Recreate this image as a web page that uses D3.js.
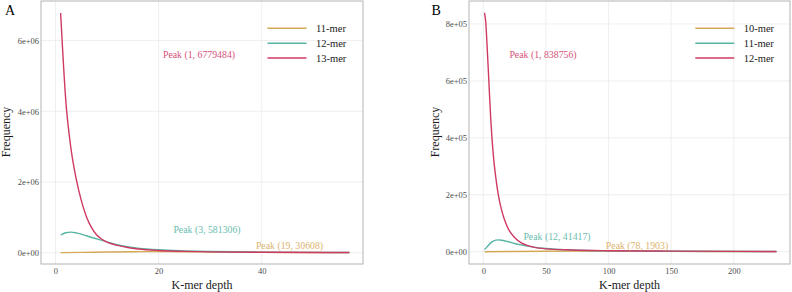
<!DOCTYPE html>
<html><head><meta charset="utf-8">
<script src="https://cdn.jsdelivr.net/npm/d3@7"></script>
<style>body{margin:0;background:#fff}svg{display:block}</style>
</head><body>
<svg id="c" width="792" height="292" font-family="'Liberation Serif', 'DejaVu Serif', serif"></svg>
<script>
// ---------- Panel A data ----------
const depthA11 = [1, 5, 10, 15, 19, 25, 30, 40, 50, 57];
const freqA11  = [1500, 8000, 20000, 28000, 30608, 27000, 20000, 9000, 3500, 2000];
const depthA12 = [1, 2, 3, 4, 5, 6, 8, 10, 11, 12, 14, 16, 20, 25, 30, 40, 50, 57];
const freqA12  = [500000, 565000, 581306, 562000, 525000, 478000, 390000, 305000, 262000, 225000, 170000, 130000, 82000, 52000, 34000, 16000, 8500, 6000];
const depthA13 = [1, 2, 3, 4, 5, 6, 7, 8, 9, 10, 11, 12, 14, 16, 20, 25, 30, 40, 50, 57];
const freqA13  = [6779484, 4300000, 2950000, 2100000, 1480000, 1020000, 710000, 500000, 380000, 300000, 245000, 205000, 145000, 105000, 62000, 38000, 24000, 11000, 6000, 4000];
// ---------- Panel B data ----------
const depthB10 = [1, 20, 50, 78, 120, 180, 234];
const freqB10  = [50, 500, 1500, 1903, 1400, 600, 300];
const depthB11 = [1, 2, 4, 6, 8, 10, 12, 15, 20, 25, 30, 40, 50, 70, 100, 150, 234];
const freqB11  = [8000, 12000, 22000, 31000, 37000, 40500, 41417, 40000, 35000, 29000, 24000, 16000, 11000, 6000, 3000, 1500, 500];
const depthB12 = [1, 2, 3, 4, 5, 6, 8, 10, 12, 15, 18, 21, 25, 30, 35, 40, 50, 70, 100, 150, 200, 234];
const freqB12  = [838756, 805000, 725000, 640000, 548000, 463000, 340000, 260000, 200000, 140000, 100000, 72000, 50000, 32000, 22000, 16000, 10000, 6000, 3500, 2000, 1200, 800];

const ticksAx = [0, 20, 40];
const ticksAy = [0, 2e6, 4e6, 6e6];
const ticksBx = [0, 50, 100, 150, 200];
const ticksBy = [0, 2e5, 4e5, 6e5, 8e5];
const labelsAy = ["0e+00", "2e+06", "4e+06", "6e+06"];
const labelsBy = ["0e+00", "2e+05", "4e+05", "6e+05", "8e+05"];

const colors = {gold: "#D4A955", teal: "#56B4A4", red: "#CF3A63"};
const annColors = {gold: "#DDB46E", teal: "#6ABDB0", red: "#D5527A"};
const FONT = "'Liberation Serif', 'DejaVu Serif', serif";

const svg = d3.select("#c");

function panel(cfg) {
  const g = svg.append("g");
  const x = d3.scaleLinear().domain(cfg.xdom).range([cfg.left, cfg.right]);
  const y = d3.scaleLinear().domain(cfg.ydom).range([cfg.bottom, cfg.top]);
  g.selectAll(".vg").data(cfg.xticks).join("line")
    .attr("x1", d => x(d)).attr("x2", d => x(d)).attr("y1", cfg.top).attr("y2", cfg.bottom)
    .attr("stroke", "#EBEBEB").attr("stroke-width", 0.8);
  g.selectAll(".hg").data(cfg.yticks).join("line")
    .attr("y1", d => y(d)).attr("y2", d => y(d)).attr("x1", cfg.left).attr("x2", cfg.right)
    .attr("stroke", "#EBEBEB").attr("stroke-width", 0.8);
  const xa = g.append("g").attr("transform", `translate(0,${cfg.bottom})`)
    .call(d3.axisBottom(x).tickValues(cfg.xticks).tickSize(0).tickPadding(4).tickFormat(d3.format("d")));
  const ya = g.append("g").attr("transform", `translate(${cfg.left},0)`)
    .call(d3.axisLeft(y).tickValues(cfg.yticks).tickSize(0).tickPadding(2).tickFormat((d, i) => cfg.ylabels[i]));
  [xa, ya].forEach(a => {
    a.attr("font-family", FONT).attr("font-size", 8.5);
    a.select(".domain").remove();
    a.selectAll("text").attr("fill", "#4D4D4D");
  });
  const line = d3.line().x(d => x(d[0])).y(d => y(d[1])).curve(d3.curveMonotoneX);
  cfg.series.forEach(s => {
    g.append("path").datum(d3.zip(s.x, s.y)).attr("d", line)
      .attr("fill", "none").attr("stroke", s.color).attr("stroke-width", 1.4);
  });
  g.append("rect").attr("x", cfg.left).attr("y", cfg.top)
    .attr("width", cfg.right - cfg.left).attr("height", cfg.bottom - cfg.top)
    .attr("fill", "none").attr("stroke", "#B3B3B3").attr("stroke-width", 1);
  cfg.ann.forEach(a => {
    g.append("text").attr("x", a.x).attr("y", a.y).attr("dy", "0.35em")
      .attr("text-anchor", "middle").attr("fill", a.color).attr("font-family", FONT)
      .attr("font-size", 9.8).text(a.text);
  });
  cfg.series.forEach((s, i) => {
    const ly = cfg.legY + i * 14.85;
    g.append("line").attr("x1", cfg.legX).attr("x2", cfg.legX + 39).attr("y1", ly).attr("y2", ly)
      .attr("stroke", s.color).attr("stroke-width", 1.5);
    g.append("text").attr("x", cfg.legX + 48.5).attr("y", ly).attr("dy", "0.35em")
      .attr("fill", "#1a1a1a").attr("font-family", FONT).attr("font-size", 10.5).text(s.name);
  });
  g.append("text").attr("x", (cfg.left + cfg.right) / 2).attr("y", 289)
    .attr("text-anchor", "middle").attr("fill", "#1a1a1a").attr("font-family", FONT)
    .attr("font-size", 12).text("K-mer depth");
  g.append("text").attr("transform", `translate(${cfg.ylabX},132) rotate(-90)`).attr("dy", "0.35em")
    .attr("text-anchor", "middle").attr("fill", "#1a1a1a").attr("font-family", FONT)
    .attr("font-size", 12).text("Frequency");
  g.append("text").attr("x", cfg.tagX).attr("y", 14.5).attr("fill", "#000").attr("font-family", FONT)
    .attr("font-size", 14).text(cfg.tag);
}

panel({
  left: 41, right: 363, top: 1, bottom: 264,
  xdom: [-2.81, 59.65], ydom: [-320000, 7120000],
  xticks: ticksAx, yticks: ticksAy, ylabels: labelsAy,
  series: [
    {name: "11-mer", x: depthA11, y: freqA11, color: colors.gold},
    {name: "12-mer", x: depthA12, y: freqA12, color: colors.teal},
    {name: "13-mer", x: depthA13, y: freqA13, color: colors.red}
  ],
  ann: [
    {text: "Peak (1, 6779484)", x: 199, y: 54.5, color: annColors.red},
    {text: "Peak (3, 581306)", x: 207, y: 230, color: annColors.teal},
    {text: "Peak (19, 30608)", x: 289.5, y: 246, color: annColors.gold}
  ],
  legX: 267.5, legY: 28.3, ylabX: 6, tag: "A", tagX: 5
});

panel({
  left: 469, right: 790, top: 1, bottom: 264,
  xdom: [-11.4, 244.8], ydom: [-43200, 880700],
  xticks: ticksBx, yticks: ticksBy, ylabels: labelsBy,
  series: [
    {name: "10-mer", x: depthB10, y: freqB10, color: colors.gold},
    {name: "11-mer", x: depthB11, y: freqB11, color: colors.teal},
    {name: "12-mer", x: depthB12, y: freqB12, color: colors.red}
  ],
  ann: [
    {text: "Peak (1, 838756)", x: 543, y: 54.5, color: annColors.red},
    {text: "Peak (12, 41417)", x: 557, y: 236.7, color: annColors.teal},
    {text: "Peak (78, 1903)", x: 637, y: 246, color: annColors.gold}
  ],
  legX: 695.3, legY: 28.3, ylabX: 434.5, tag: "B", tagX: 431.5
});
</script>
</body></html>
